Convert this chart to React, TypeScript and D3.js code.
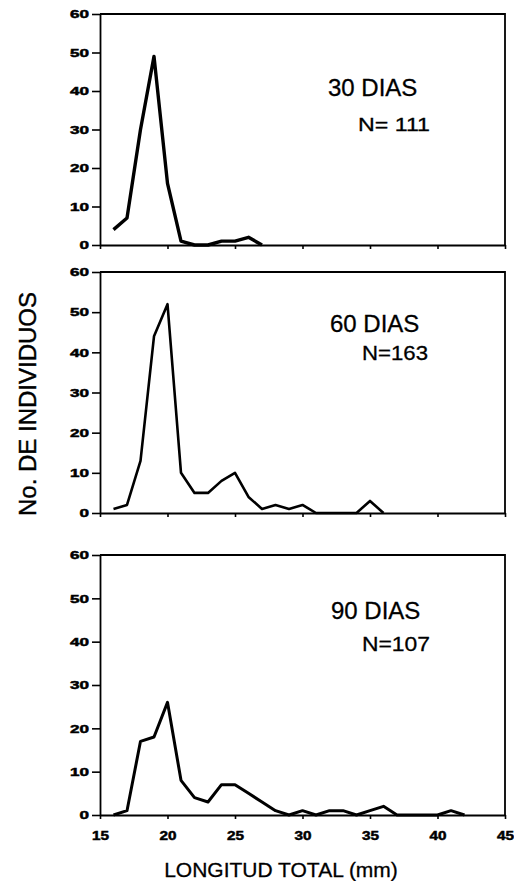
import { useRef, useEffect } from "react"
import * as d3 from "d3"

// Longitud total (mm) y número de individuos por clase
const lengths30 = [16, 17, 18, 19, 20, 21, 22, 23, 24, 25, 26, 27]
const counts30 = [4, 7, 30, 49, 16, 1, 0, 0, 1, 1, 2, 0]

const lengths60 = [16, 17, 18, 19, 20, 21, 22, 23, 24, 25, 26, 27, 28, 29, 30, 31, 32, 33, 34, 35, 36]
const counts60 = [1, 2, 13, 44, 52, 10, 5, 5, 8, 10, 4, 1, 2, 1, 2, 0, 0, 0, 0, 3, 0]

const lengths90 = [16, 17, 18, 19, 20, 21, 22, 23, 24, 25, 26, 27, 28, 29, 30, 31, 32, 33, 34, 35, 36, 37, 38, 39, 40, 41, 42]
const counts90 = [0, 1, 17, 18, 26, 8, 4, 3, 7, 7, 5, 3, 1, 0, 1, 0, 1, 1, 0, 1, 2, 0, 0, 0, 0, 1, 0]

const panelTitles = ["30 DIAS", "60 DIAS", "90 DIAS"]
const panelN = ["N= 111", "N=163", "N=107"]

const yTicks = [0, 10, 20, 30, 40, 50, 60]
const xTicks = [15, 20, 25, 30, 35, 40, 45]

const FONT = "'Liberation Sans', Arial, Helvetica, sans-serif"

const App = () => {
  const svgRef = useRef<SVGSVGElement>(null)

  useEffect(() => {
    const svg = d3.select(svgRef.current)
    svg.selectAll("*").remove()

    const x = d3.scaleLinear().domain([15, 45]).range([100, 505])

    const panels = [
      { lengths: lengths30, counts: counts30, top: 14, bottom: 245, lw: 3.4, title: { x: 328, y: 96, size: 24 }, n: { x: 358, y: 131, size: 19, len: 72 } },
      { lengths: lengths60, counts: counts60, top: 272, bottom: 513, lw: 2.6, title: { x: 330, y: 332, size: 24 }, n: { x: 362, y: 360, size: 21, len: 66 } },
      { lengths: lengths90, counts: counts90, top: 555, bottom: 815, lw: 3.0, title: { x: 331, y: 619, size: 24 }, n: { x: 362, y: 651, size: 21, len: 68 } },
    ]

    panels.forEach((p, i) => {
      const y = d3.scaleLinear().domain([0, 60]).range([p.bottom, p.top])
      const g = svg.append("g")

      // frame (top and right)
      g.append("path")
        .attr("d", `M${x(15)},${y(60)}H${x(45)}V${y(0)}`)
        .attr("fill", "none")
        .attr("stroke", "#000")
        .attr("stroke-width", 1.8)

      // y axis
      const yAxis = g
        .append("g")
        .attr("transform", `translate(${x(15)},0)`)
        .call(d3.axisLeft(y).tickValues(yTicks).tickSize(8).tickPadding(3).tickSizeOuter(0))
      yAxis.select(".domain").attr("stroke-width", 1.8)
      yAxis.selectAll("line").attr("stroke-width", 1.6)
      yAxis
        .selectAll("text")
        .attr("font-family", FONT)
        .attr("font-weight", "bold")
        .attr("font-size", 11.5)
        .attr("stroke", "#000")
        .attr("stroke-width", 0.5)
        .attr("textLength", (d: any) => String(d).length * 9.5)
        .attr("lengthAdjust", "spacingAndGlyphs")

      // x axis
      const xAxis = g
        .append("g")
        .attr("transform", `translate(0,${y(0)})`)
        .call(d3.axisBottom(x).tickValues(xTicks).tickSize(4).tickPadding(12).tickSizeOuter(0).tickFormat(i === 2 ? (d3.format("d") as any) : () => ""))
      xAxis.select(".domain").attr("stroke-width", 2)
      xAxis.selectAll("line").attr("stroke-width", 1.6)
      xAxis
        .selectAll("text")
        .attr("font-family", FONT)
        .attr("font-weight", "bold")
        .attr("font-size", 12.5)
        .attr("stroke", "#000")
        .attr("stroke-width", 0.5)
        .attr("textLength", 17)
        .attr("lengthAdjust", "spacingAndGlyphs")

      // frequency line
      const line = d3
        .line<number>()
        .x((d, k) => x(p.lengths[k]))
        .y((d) => y(d))
      g.append("path")
        .datum(p.counts)
        .attr("fill", "none")
        .attr("stroke", "#000")
        .attr("stroke-width", p.lw)
        .attr("stroke-linejoin", "round")
        .attr("d", line)

      // labels
      g.append("text")
        .attr("x", p.title.x)
        .attr("y", p.title.y)
        .attr("font-family", FONT)
        .attr("font-size", p.title.size)
        .attr("stroke", "#000")
        .attr("stroke-width", 0.3)
        .text(panelTitles[i])
      g.append("text")
        .attr("x", p.n.x)
        .attr("y", p.n.y)
        .attr("font-family", FONT)
        .attr("font-size", p.n.size)
        .attr("stroke", "#000")
        .attr("stroke-width", 0.3)
        .attr("textLength", p.n.len)
        .attr("lengthAdjust", "spacingAndGlyphs")
        .text(panelN[i])
    })

    // axis titles
    svg
      .append("text")
      .attr("transform", "translate(36,404) rotate(-90)")
      .attr("text-anchor", "middle")
      .attr("font-family", FONT)
      .attr("font-size", 24)
      .attr("stroke", "#000")
      .attr("stroke-width", 0.4)
      .text("No. DE INDIVIDUOS")

    svg
      .append("text")
      .attr("x", 281)
      .attr("y", 877)
      .attr("text-anchor", "middle")
      .attr("font-family", FONT)
      .attr("font-size", 21)
      .attr("stroke", "#000")
      .attr("stroke-width", 0.3)
      .text("LONGITUD TOTAL (mm)")
  }, [])

  return (
    <svg
      ref={svgRef}
      width={514}
      height={881}
      style={{ position: "absolute", left: 0, top: 0, background: "#fff" }}
    ></svg>
  )
}

export default App
